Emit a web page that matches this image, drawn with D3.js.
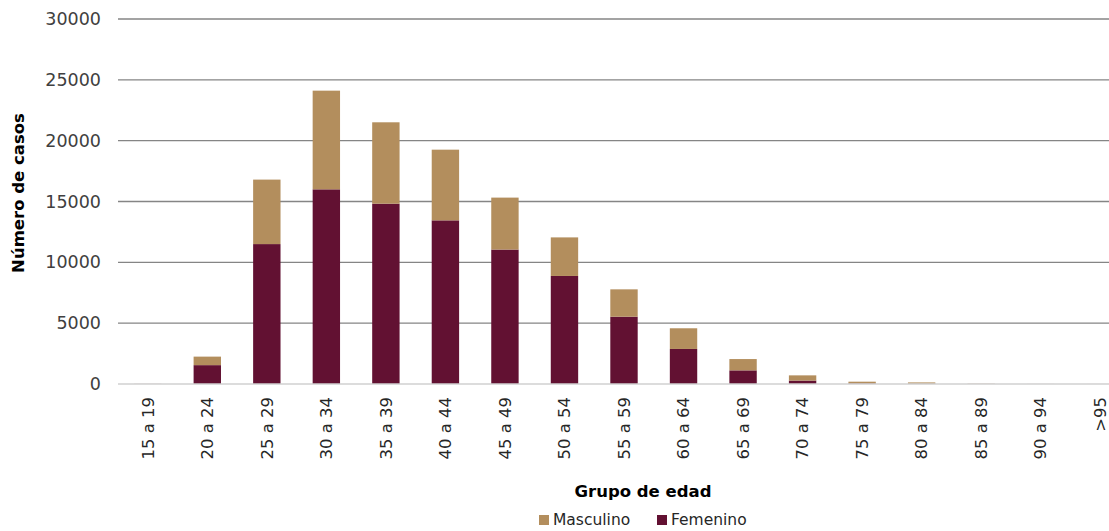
<!DOCTYPE html>
<html><head><meta charset="utf-8">
<script src="https://cdn.jsdelivr.net/npm/d3@7"></script>
<style>body{margin:0;background:#fff;}svg{display:block;font-family:"DejaVu Sans",sans-serif;}</style>
</head><body>
<svg id="c" width="1109" height="531"></svg>
<script>
const categories = ["15 a 19","20 a 24","25 a 29","30 a 34","35 a 39","40 a 44","45 a 49","50 a 54","55 a 59","60 a 64","65 a 69","70 a 74","75 a 79","80 a 84","85 a 89","90 a 94",">95"];
const femenino  = [5, 1550, 11500, 16000, 14820, 13450, 11050, 8880, 5530, 2880, 1120, 280, 45, 25, 5, 2, 1];
const masculino = [5, 700, 5300, 8110, 6690, 5810, 4270, 3170, 2250, 1700, 930, 430, 145, 105, 15, 3, 1];
const yTicks = [0, 5000, 10000, 15000, 20000, 25000, 30000];
const seriesNames = ["Masculino", "Femenino"];
const colors = {Masculino: "#B38E5D", Femenino: "#621132"};

const svg = d3.select("#c");
const x = d3.scaleBand().domain(categories).range([118, 1130]).paddingInner(0.54).paddingOuter(0.27);
const y = d3.scaleLinear().domain([0, 30000]).range([384, 19]);

// gridlines
svg.append("g").selectAll("line").data(yTicks.filter(d => d > 0)).join("line")
  .attr("x1", 118).attr("x2", 1109)
  .attr("y1", d => y(d)).attr("y2", d => y(d))
  .attr("stroke", "#858585").attr("stroke-width", 1.3);

// y tick labels
svg.append("g").selectAll("text").data(yTicks).join("text")
  .attr("x", 101).attr("y", d => y(d)).attr("dy", "0.35em")
  .attr("text-anchor", "end").attr("font-size", 17.5).attr("fill", "#404040")
  .text(d => d);

// stacked data
const rows = categories.map((c, i) => ({cat: c, Femenino: femenino[i], Masculino: masculino[i]}));
const stack = d3.stack().keys(["Femenino", "Masculino"])(rows);
svg.append("g").selectAll("g").data(stack).join("g")
  .attr("fill", d => colors[d.key])
  .selectAll("rect").data(d => d).join("rect")
  .attr("x", d => x(d.data.cat)).attr("width", x.bandwidth())
  .attr("y", d => y(d[1])).attr("height", d => y(d[0]) - y(d[1]));

// x axis baseline
svg.append("line").attr("x1", 118).attr("x2", 1109).attr("y1", y(0)).attr("y2", y(0))
  .attr("stroke", "#d0d0d0").attr("stroke-width", 1.5);

// x labels
svg.append("g").selectAll("text").data(categories).join("text")
  .attr("transform", d => `translate(${x(d) + x.bandwidth() / 2},397) rotate(-90)`)
  .attr("text-anchor", "end").attr("dy", "0.35em")
  .attr("font-size", 16.5).attr("fill", "#262626")
  .text(d => d);

// axis titles
svg.append("text").attr("transform", "translate(18,193) rotate(-90)")
  .attr("text-anchor", "middle").attr("dy", "0.35em")
  .attr("font-size", 16.5).attr("font-weight", "bold").attr("fill", "#000")
  .text("Número de casos");
svg.append("text").attr("x", 643).attr("y", 491).attr("dy", "0.35em")
  .attr("text-anchor", "middle").attr("font-size", 16.5).attr("font-weight", "bold").attr("fill", "#000")
  .text("Grupo de edad");

// legend
const leg = svg.append("g");
const legX = [539, 657];
seriesNames.forEach((s, i) => {
  leg.append("rect").attr("x", legX[i]).attr("y", 515).attr("width", 10).attr("height", 10).attr("fill", colors[s]);
  leg.append("text").attr("x", legX[i] + 14).attr("y", 520).attr("dy", "0.35em")
    .attr("font-size", 15.5).attr("fill", "#262626").text(s);
});
</script>
</body></html>
